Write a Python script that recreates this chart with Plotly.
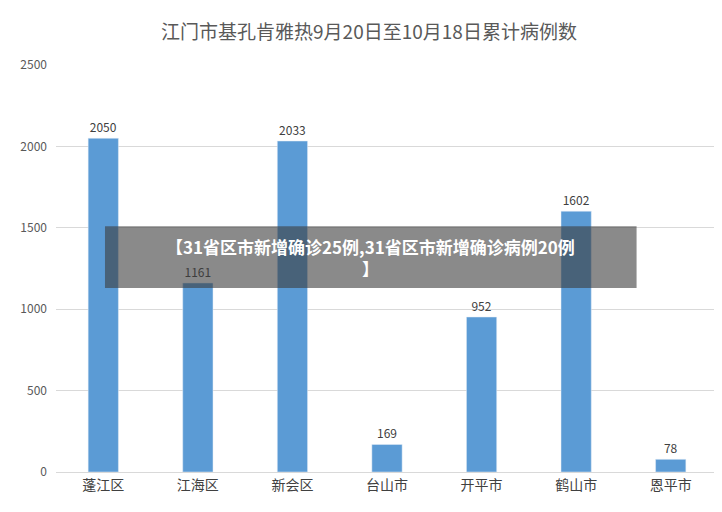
import plotly.graph_objects as go

districts = ["蓬江区", "江海区", "新会区", "台山市", "开平市", "鹤山市", "恩平市"]
cases = [2050, 1161, 2033, 169, 952, 1602, 78]
y_ticks = [0, 500, 1000, 1500, 2000, 2500]

title = "江门市基孔肯雅热9月20日至10月18日累计病例数"
banner = "<b>【31省区市新增确诊25例,31省区市新增确诊病例20例<br>】</b>"

fig = go.Figure(go.Bar(
    x=districts, y=cases, text=cases, textposition="outside",
    marker_color="#5B9BD5", width=0.32, cliponaxis=False,
    textfont=dict(size=12, color="#404040"),
))

fig.update_layout(
    width=722, height=512,
    margin=dict(l=43, r=12, t=57, b=48),
    paper_bgcolor="white", plot_bgcolor="white",
    font=dict(family="Noto Sans CJK SC", color="#595959"),
    title=dict(text=title, x=0.5, y=0.965, xanchor="center",
               font=dict(size=19, color="#595959")),
    showlegend=False,
)
fig.update_yaxes(range=[0, 2500], tickvals=y_ticks, gridcolor="#D9D9D9",
                 zeroline=False, tickfont=dict(size=12), ticklabelstandoff=8)
fig.update_xaxes(showline=True, linecolor="#D9D9D9", tickfont=dict(size=14, color="#404040"))

fig.add_shape(type="rect", xref="paper", yref="paper", x0=0.074, x1=0.877, y0=0.452, y1=0.604,
              fillcolor="rgba(60,60,60,0.6)", line_width=0, layer="above")
fig.add_annotation(text=banner, xref="paper", yref="paper", x=0.475, y=0.528,
                   showarrow=False, align="center",
                   font=dict(size=17, color="white", family="Noto Sans CJK SC"))

fig.write_html("out.html")
